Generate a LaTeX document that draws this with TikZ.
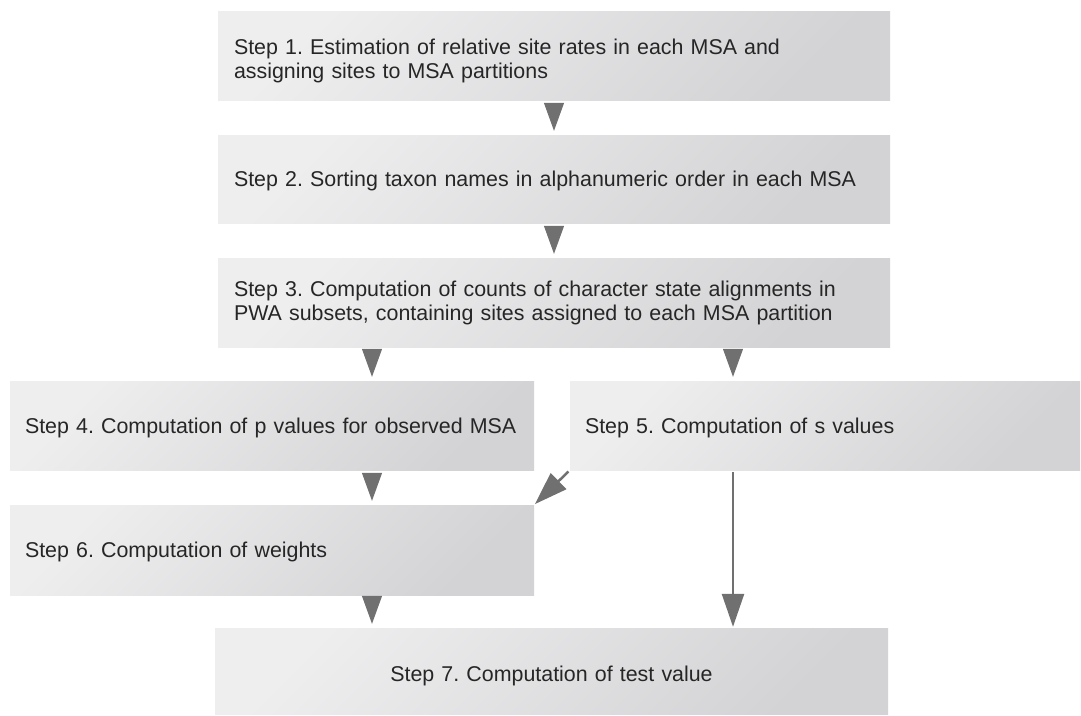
\documentclass[tikz,border=0pt]{standalone}
\usepackage{fontspec}
\setmainfont{Liberation Sans}
\usetikzlibrary{arrows.meta}
\definecolor{boxlo}{RGB}{238,238,239}
\definecolor{boxhi}{RGB}{211,211,213}
\definecolor{arrgray}{RGB}{112,112,112}

\begin{document}
\begin{tikzpicture}[x=1pt,y=-1pt,font=\fontsize{21.4}{24}\selectfont\frenchspacing,color=black!85,
  nd/.style={left color=boxlo,right color=boxhi,shading angle=45,minimum height=89pt,inner ysep=0pt,text depth=-2pt,align=left},
  gap/.style={-{Triangle[length=28pt,width=20pt]},draw=arrgray,fill=arrgray,line width=1pt,shorten <=3pt,shorten >=4pt},
  lng/.style={-{Triangle[length=33pt,width=22pt]},draw=arrgray,fill=arrgray,line width=2.5pt,shorten <=2pt,shorten >=1pt}]
  \useasboundingbox (0,0) rectangle (1081,715);
  \node[nd,text width=640pt,inner xsep=16pt,text depth=18.5pt] (s1) at (554,55.5) {Step 1. Estimation of relative site rates in each MSA and\\assigning sites to MSA partitions};
  \node[nd,text width=640pt,inner xsep=16pt,minimum height=88pt] (s2) at (554,179) {Step 2. Sorting taxon names in alphanumeric order in each MSA};
  \node[nd,text width=640pt,inner xsep=16pt,text depth=28.5pt] (s3) at (554,302.5) {Step 3. Computation of counts of character state alignments in\\PWA subsets, containing sites assigned to each MSA partition};
  \node[nd,text width=494pt,inner xsep=15pt] (s4) at (272,425.5) {Step 4. Computation of p values for observed MSA};
  \node[nd,text width=480pt,inner xsep=15pt] (s5) at (825,425.5) {Step 5. Computation of s values};
  \node[nd,text width=494pt,inner xsep=15pt,minimum height=90pt] (s6) at (272,550) {Step 6. Computation of weights};
  \node[nd,text width=643pt,inner xsep=15pt,minimum height=86pt,text height=21pt,text depth=0pt,align=center] (s7) at (551.5,671) {Step 7. Computation of test value};
  \coordinate (cl) at (372,0);
  \coordinate (cr) at (733,0);
  \foreach \a/\b in {s1/s2,s2/s3} \draw[gap] (\a) -- (\b);
  \foreach \a/\b/\c in {s3/s4/cl,s3/s5/cr,s4/s6/cl,s6/s7/cl}
    \draw[gap] (\a.south -| \c) -- (\b.north -| \c);
  \draw[lng] (s5.south -| cr) -- (s7.north -| cr);
  \draw[lng] (s5.south west) -- (s6.north east);
\end{tikzpicture}
\end{document}
